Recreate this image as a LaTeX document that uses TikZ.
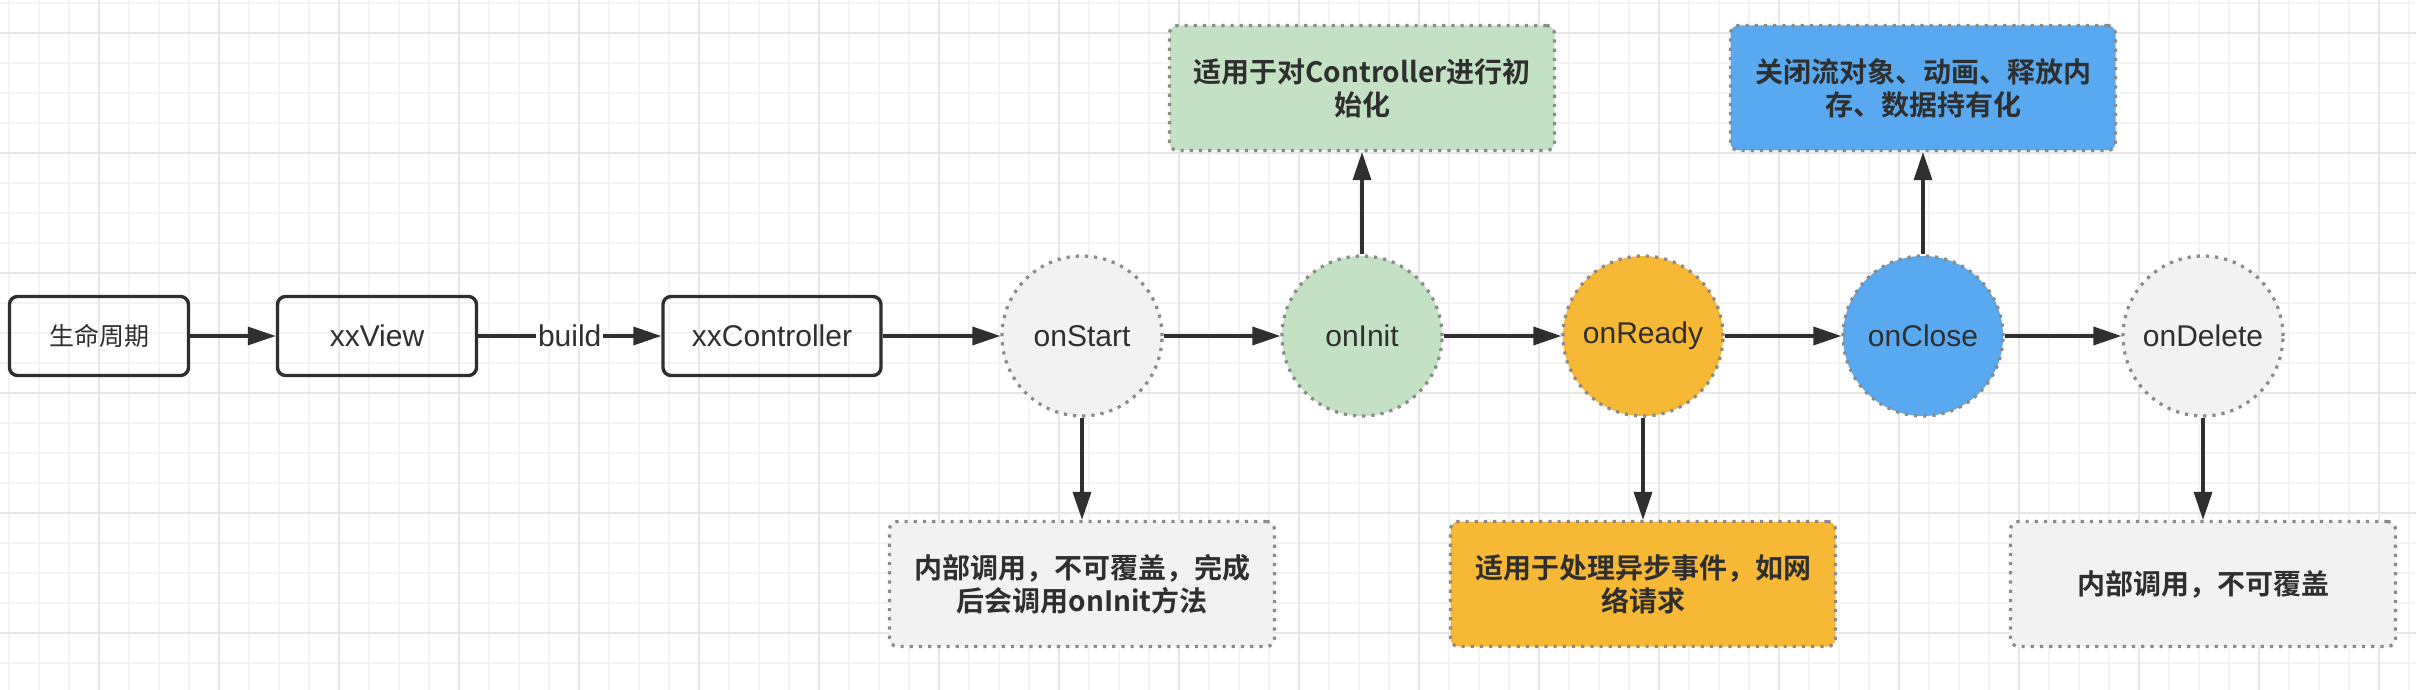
\documentclass[tikz,border=0pt]{standalone}
\usepackage{fontspec}
\setmainfont{Liberation Sans}
\newfontfamily\cjk{Noto Sans CJK SC}[BoldFont={Noto Sans CJK SC Bold}]
\usetikzlibrary{arrows.meta,positioning}

\definecolor{ink}{HTML}{2F2F2F}
\definecolor{dotgray}{HTML}{8A8A8A}
\definecolor{paper}{HTML}{F2F2F2}
\definecolor{mint}{HTML}{C3E2C3}
\definecolor{amber}{HTML}{F7B836}
\definecolor{sky}{HTML}{59A9F0}
\definecolor{gridminor}{HTML}{F3F3F3}
\definecolor{gridmajor}{HTML}{E7E7E7}

\tikzset{
	flowbox/.style={draw=ink,line width=1.7pt,rounded corners=4pt,minimum height=39.5pt,inner sep=0pt,text=ink,font=\fontsize{15}{17}\selectfont},
	hook/.style={circle,draw=dotgray,line width=1.6pt,dash pattern=on 1.6pt off 3pt,minimum size=80pt,inner sep=0pt,text=ink,font=\fontsize{15}{17}\selectfont},
	note/.style={draw=dotgray,line width=1.6pt,dash pattern=on 1.6pt off 3pt,rounded corners=4pt,minimum width=192.5pt,minimum height=62.5pt,inner sep=0pt,align=center,text=ink,font=\cjk\bfseries\fontsize{14}{16.5}\selectfont},
	link/.style={draw=ink,line width=1.7pt,-{Triangle[length=14pt,width=9pt]}},
}

\begin{document}
\begin{tikzpicture}[x=0.5pt,y=-0.5pt]
	\useasboundingbox (0,0) rectangle (2416,690);
	\fill[white] (0,0) rectangle (2416,690);
	% grid
	\foreach \gx in {9,39,...,2416} \draw[gridminor,line width=1pt] (\gx,0)--(\gx,690);
	\foreach \gy in {3,33,...,690} \draw[gridminor,line width=1pt] (0,\gy)--(2416,\gy);
	\foreach \gx in {99,219,...,2416} \draw[gridmajor,line width=1.2pt] (\gx,0)--(\gx,690);
	\foreach \gy in {33,153,...,690} \draw[gridmajor,line width=1.2pt] (0,\gy)--(2416,\gy);

	% main row
	\node[flowbox,minimum width=89.5pt,font=\cjk\fontsize{12.5}{15}\selectfont] (life) at (99,336) {生命周期};
	\node[flowbox,minimum width=99.5pt] (view) at (377,336) {xxView};
	\node[flowbox,minimum width=109pt] (ctrl) at (772,336) {xxController};
	\node[hook,fill=paper] (start) at (1082,336) {onStart};
	\node[hook,fill=mint] (init) at (1362,336) {onInit};
	\node[hook,fill=amber] (ready) at (1643,336) {onReady};
	\node[hook,fill=sky] (close) at (1923,336) {onClose};
	\node[hook,fill=paper] (delete) at (2203,336) {onDelete};

	% notes
	\node[note,fill=mint] (initnote) at (1362,88) {适用于对Controller进行初\\始化};
	\node[note,fill=sky] (closenote) at (1923,88) {关闭流对象、动画、释放内\\存、数据持有化};
	\node[note,fill=paper] (startnote) at (1082,584) {内部调用，不可覆盖，完成\\后会调用onInit方法};
	\node[note,fill=amber] (readynote) at (1643,584) {适用于处理异步事件，如网\\络请求};
	\node[note,fill=paper] (deletenote) at (2203,584) {内部调用，不可覆盖};

	\draw[link] (life)--(view);
	\draw[link] (view)--node[fill=white,inner sep=1pt,text=ink,font=\fontsize{15}{17}\selectfont]{build}(ctrl);
	\draw[link] (ctrl)--(start);
	\draw[link] (start)--(init);
	\draw[link] (init)--(ready);
	\draw[link] (ready)--(close);
	\draw[link] (close)--(delete);
	\draw[link] (init)--(initnote);
	\draw[link] (close)--(closenote);
	\draw[link] (start)--(startnote);
	\draw[link] (ready)--(readynote);
	\draw[link] (delete)--(deletenote);
\end{tikzpicture}
\end{document}
